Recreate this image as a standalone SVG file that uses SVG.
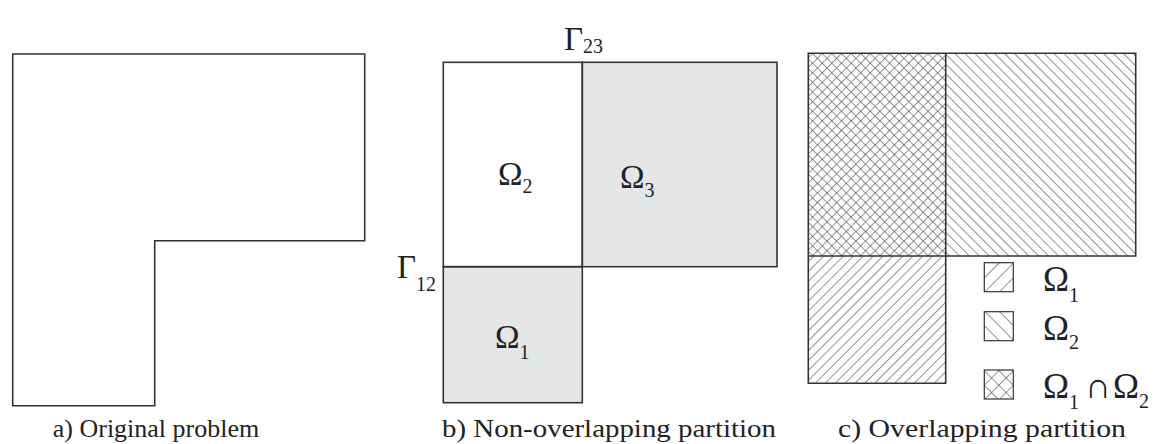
<svg xmlns="http://www.w3.org/2000/svg" width="1160" height="444" viewBox="0 0 1160 444">
  <defs>
    <style>
      .edge { fill: none; stroke: #333; stroke-width: 1.6; }
      .gray { fill: #e5e6e8; stroke: #333; stroke-width: 1.6; }
      text { font-family: 'Liberation Serif', 'DejaVu Serif', serif; fill: #222; }
      .big { font-size: 33px; }
      .sub { font-size: 20px; }
      .cap { font-size: 26px; }
      .hl { stroke: #2a2a2a; stroke-width: 1; }
    </style>
    <pattern id="hatchF" patternUnits="userSpaceOnUse" width="7" height="10" patternTransform="rotate(45)">
      <line x1="0" y1="0" x2="0" y2="10" class="hl"/>
    </pattern>
    <pattern id="hatchB" patternUnits="userSpaceOnUse" width="7" height="10" patternTransform="rotate(-45)">
      <line x1="0" y1="0" x2="0" y2="10" class="hl"/>
    </pattern>
    <pattern id="cross" patternUnits="userSpaceOnUse" width="6.8" height="6.8" patternTransform="rotate(45)">
      <line x1="0" y1="0" x2="0" y2="6.8" class="hl"/>
      <line x1="0" y1="0" x2="6.8" y2="0" class="hl"/>
    </pattern>
    <pattern id="lgF" patternUnits="userSpaceOnUse" width="10.3" height="10" patternTransform="translate(984.3,291.7) rotate(45)">
      <line x1="0" y1="0" x2="0" y2="10" class="hl"/>
    </pattern>
    <pattern id="lgB" patternUnits="userSpaceOnUse" width="10.3" height="10" patternTransform="translate(984.3,311.7) rotate(-45)">
      <line x1="0" y1="0" x2="0" y2="10" class="hl"/>
    </pattern>
    <pattern id="lgC" patternUnits="userSpaceOnUse" width="10.3" height="10.3" patternTransform="translate(984.3,370) rotate(45)">
      <line x1="0" y1="0" x2="0" y2="10.3" class="hl"/>
      <line x1="0" y1="0" x2="10.3" y2="0" class="hl"/>
    </pattern>
  </defs>
  <rect width="1160" height="444" fill="#ffffff"/>

  <!-- Panel a -->
  <g id="panel-a">
    <path class="edge" d="M12.7,54 H364.7 V240.7 H154.7 V405.7 H12.7 Z"/>
  </g>

  <!-- Panel b -->
  <g id="omega3-b">
    <rect class="gray" x="582.3" y="62.3" width="194.7" height="204.4"/>
    <text x="620" y="188"><tspan class="big">Ω</tspan><tspan class="sub" dy="9">3</tspan></text>
  </g>
  <g id="omega1-b">
    <rect class="gray" x="443.3" y="266.7" width="139" height="136"/>
    <text x="495" y="348"><tspan class="big">Ω</tspan><tspan class="sub" dy="11">1</tspan></text>
  </g>
  <g id="omega2-b">
    <rect class="edge" x="443.3" y="62.3" width="139" height="204.4"/>
    <text x="498" y="185"><tspan class="big">Ω</tspan><tspan class="sub" dy="8">2</tspan></text>
  </g>
  <g id="gamma23">
    <text x="564" y="50"><tspan class="big">Γ</tspan><tspan class="sub" dy="3">23</tspan></text>
  </g>
  <g id="gamma12">
    <text x="397" y="278"><tspan class="big">Γ</tspan><tspan class="sub" dy="13">12</tspan></text>
  </g>

  <!-- Panel c -->
  <g id="overlap-c">
    <rect x="808.3" y="53.3" width="137.4" height="202.7" fill="url(#cross)"/>
    <rect x="945.7" y="53.3" width="190" height="202.7" fill="url(#hatchB)"/>
    <rect x="808.3" y="256" width="137.4" height="127.3" fill="url(#hatchF)"/>
    <path class="edge" d="M808.3,53.3 H1135.7 V256 H945.7 V383.3 H808.3 Z M808.3,256 H945.7 V53.3"/>
  </g>

  <!-- Legend -->
  <g id="legend-omega1">
    <rect x="984.3" y="262.7" width="29" height="29" fill="url(#lgF)" stroke="#333" stroke-width="1.2"/>
    <text x="1043" y="291"><tspan style="font-size:35px">Ω</tspan><tspan class="sub" dy="11">1</tspan></text>
  </g>
  <g id="legend-omega2">
    <rect x="984.3" y="311.7" width="29" height="29" fill="url(#lgB)" stroke="#333" stroke-width="1.2"/>
    <text x="1043" y="340"><tspan style="font-size:35px">Ω</tspan><tspan class="sub" dy="9">2</tspan></text>
  </g>
  <g id="legend-overlap">
    <rect x="984.3" y="370" width="29" height="29" fill="url(#lgC)" stroke="#333" stroke-width="1.2"/>
    <text x="1043" y="398"><tspan style="font-size:35px">Ω</tspan><tspan class="sub" dy="11">1</tspan><tspan style="font-size:36px" x="1085" dy="-11">∩</tspan><tspan style="font-size:35px" x="1113">Ω</tspan><tspan class="sub" dy="10">2</tspan></text>
  </g>

  <!-- Captions -->
  <g id="captions">
    <text class="cap" x="156" y="437" text-anchor="middle">a) Original problem</text>
    <text class="cap" x="442" y="437" textLength="334" lengthAdjust="spacingAndGlyphs">b) Non-overlapping partition</text>
    <text class="cap" x="838" y="437" textLength="288" lengthAdjust="spacingAndGlyphs">c) Overlapping partition</text>
  </g>
</svg>
